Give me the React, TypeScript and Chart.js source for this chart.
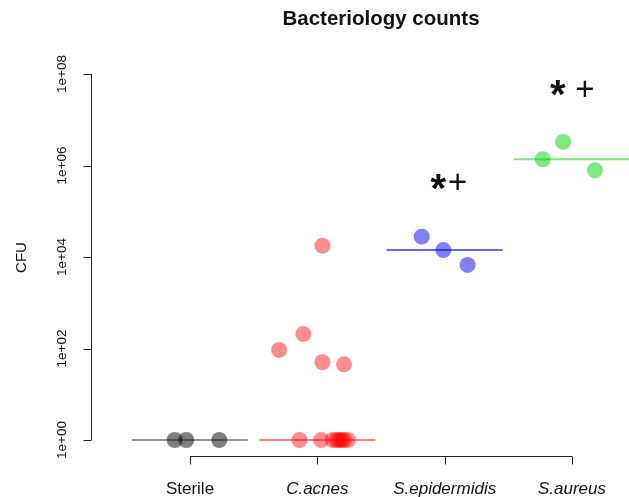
import React, { useEffect, useRef } from 'react';
import { Chart, registerables } from 'chart.js';

Chart.register(...registerables);

// ---------- data ----------
const chartTitle = 'Bacteriology counts';
const yAxisTitle = 'CFU';
const categories = ['Sterile', 'C.acnes', 'S.epidermidis', 'S.aureus'];
const categoryItalic = [false, true, true, true];
const categoryPos = [1, 2, 3, 4];

const sterileX = [0.88, 0.97, 1.23];
const sterileY = [1, 1, 1];
const cacnesX = [2.04, 1.89, 1.7, 2.04, 2.21, 1.86, 2.03, 2.12, 2.15, 2.17, 2.19, 2.21, 2.24];
const cacnesY = [17700, 207, 93, 50, 45, 1, 1, 1, 1, 1, 1, 1, 1];
const sepiX = [2.82, 2.99, 3.18];
const sepiY = [27800, 14200, 6700];
const saurX = [3.93, 3.77, 4.18];
const saurY = [3270000, 1370000, 785000];

const medianY = [1, 1, 14200, 1370000];
const medianHalfWidth = 0.455;

const yTickValues = [1, 1e2, 1e4, 1e6, 1e8];
const yTickLabels = ['1e+00', '1e+02', '1e+04', '1e+06', '1e+08'];

const starX = [2.89, 3.89];
const plusX = [3.1, 4.1];
const markY = [4.4e5, 4.9e7];

// ---------- styles ----------
const W = 629;
const H = 497;
const pointColors = ['rgba(0,0,0,0.5)', 'rgba(255,0,0,0.45)', 'rgba(0,0,238,0.5)', 'rgba(0,210,0,0.5)'];
const lineColors = ['rgba(0,0,0,0.42)', 'rgba(255,0,0,0.5)', 'rgba(0,0,238,0.6)', 'rgba(0,210,0,0.5)'];
const FONT = '"Liberation Sans", Arial, Helvetica, sans-serif';

const toPts = (xs: number[], ys: number[]) => xs.map((x, i) => ({ x, y: ys[i] }));

const rStylePlugin = {
  id: 'rStyle',
  afterDraw(chart: any) {
    const ctx = chart.ctx as CanvasRenderingContext2D;
    const xs = chart.scales.x;
    const ys = chart.scales.y;
    const area = chart.chartArea;
    ctx.save();
    ctx.strokeStyle = '#222';
    ctx.fillStyle = '#111';
    ctx.lineWidth = 1;

    // y axis
    const ax = Math.round(area.left) + 0.5;
    const yTop = ys.getPixelForValue(yTickValues[yTickValues.length - 1]);
    const yBot = ys.getPixelForValue(yTickValues[0]);
    ctx.beginPath();
    ctx.moveTo(ax, yTop);
    ctx.lineTo(ax, yBot);
    yTickValues.forEach((v) => {
      const py = Math.round(ys.getPixelForValue(v)) + 0.5;
      ctx.moveTo(ax - 8, py);
      ctx.lineTo(ax, py);
    });
    ctx.stroke();

    ctx.font = `13.5px ${FONT}`;
    ctx.textAlign = 'center';
    ctx.textBaseline = 'middle';
    yTickValues.forEach((v, i) => {
      const py = ys.getPixelForValue(v);
      ctx.save();
      ctx.translate(ax - 29, py);
      ctx.rotate(-Math.PI / 2);
      ctx.fillText(yTickLabels[i], 0, 0);
      ctx.restore();
    });

    // y title
    ctx.save();
    ctx.font = `15px ${FONT}`;
    ctx.translate(22, (yTop + yBot) / 2 + 0.5);
    ctx.rotate(-Math.PI / 2);
    ctx.fillText(yAxisTitle, 0, 0);
    ctx.restore();

    // x axis
    const ay = Math.round(area.bottom) - 0.5;
    const xL = xs.getPixelForValue(categoryPos[0]);
    const xR = xs.getPixelForValue(categoryPos[categoryPos.length - 1]);
    ctx.beginPath();
    ctx.moveTo(xL, ay);
    ctx.lineTo(xR, ay);
    categoryPos.forEach((c) => {
      const px = Math.round(xs.getPixelForValue(c)) + 0.5;
      ctx.moveTo(px, ay);
      ctx.lineTo(px, ay + 8);
    });
    ctx.stroke();

    ctx.textBaseline = 'alphabetic';
    categoryPos.forEach((c, i) => {
      ctx.font = `${categoryItalic[i] ? 'italic ' : ''}17px ${FONT}`;
      ctx.fillText(categories[i], xs.getPixelForValue(c), 494);
    });

    // title
    ctx.font = `bold 20.5px ${FONT}`;
    ctx.fillText(chartTitle, xs.getPixelForValue((categoryPos[0] + categoryPos[3]) / 2), 25);

    // significance marks
    const drawCentered = (s: string, font: string, x: number, y: number) => {
      ctx.font = font;
      const m = ctx.measureText(s);
      const w = m.actualBoundingBoxRight + m.actualBoundingBoxLeft;
      const h = m.actualBoundingBoxAscent + m.actualBoundingBoxDescent;
      ctx.textAlign = 'left';
      ctx.fillText(s, x - w / 2 + m.actualBoundingBoxLeft, y + h / 2 - m.actualBoundingBoxDescent);
    };
    markY.forEach((v, i) => {
      const py = ys.getPixelForValue(v);
      drawCentered('*', `bold 40px ${FONT}`, xs.getPixelForValue(starX[i]), py);
      drawCentered('+', `33px ${FONT}`, xs.getPixelForValue(plusX[i]), py);
    });
    ctx.restore();
  },
};

export default function App() {
  const ref = useRef<HTMLCanvasElement | null>(null);
  useEffect(() => {
    document.body.style.margin = '0';
    const groupsX = [sterileX, cacnesX, sepiX, saurX];
    const groupsY = [sterileY, cacnesY, sepiY, saurY];
    const pointSets = categories.map((name, i) => ({
      type: 'scatter' as const,
      label: name,
      data: toPts(groupsX[i], groupsY[i]),
      backgroundColor: pointColors[i],
      borderWidth: 0,
      pointRadius: 8,
      pointHoverRadius: 8,
      order: 1,
    }));
    const lineSets = categories.map((name, i) => ({
      type: 'line' as const,
      label: name + ' median',
      data: [
        { x: categoryPos[i] - medianHalfWidth, y: medianY[i] },
        { x: categoryPos[i] + medianHalfWidth, y: medianY[i] },
      ],
      borderColor: lineColors[i],
      borderWidth: 2,
      pointRadius: 0,
      fill: false,
      order: 2,
    }));
    const chart = new Chart(ref.current as HTMLCanvasElement, {
      type: 'scatter',
      data: { datasets: [...pointSets, ...lineSets] as any },
      options: {
        animation: false,
        responsive: false,
        maintainAspectRatio: false,
        devicePixelRatio: 1,
        layout: { autoPadding: false, padding: { left: 91, top: 40, right: 0, bottom: 40 } },
        plugins: { legend: { display: false }, tooltip: { enabled: false }, title: { display: false } },
        scales: {
          x: { type: 'linear', display: false, min: 1 - 99 / 127.33, max: 1 + 439 / 127.33 },
          y: { type: 'logarithmic', display: false, min: Math.pow(10, -17 / 45.75), max: Math.pow(10, 400 / 45.75) },
        },
      },
      plugins: [rStylePlugin],
    });
    return () => chart.destroy();
  }, []);
  return (
    <div style={{ position: 'fixed', left: 0, top: 0, width: W, height: H, background: '#fff' }}>
      <canvas ref={ref} width={W} height={H} style={{ display: 'block', width: W, height: H }} />
    </div>
  );
}
